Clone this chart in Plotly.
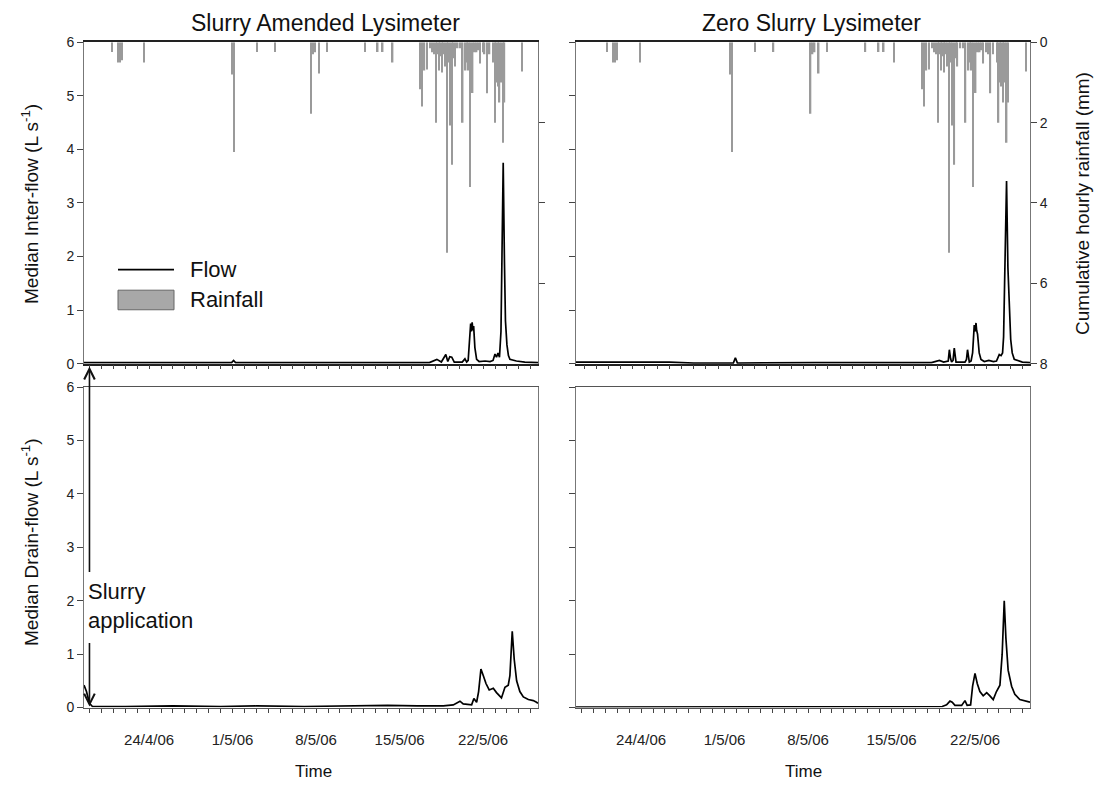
import plotly.graph_objects as go

# ---------------- data ----------------
# Hourly rainfall (mm) - shown hanging from the top of both upper panels
rainfall = [
    ("2006-04-20 21:00", 0.24), ("2006-04-21 09:00", 0.5), ("2006-04-21 13:00", 0.5),
    ("2006-04-21 17:00", 0.45), ("2006-04-23 14:00", 0.5), ("2006-05-01 00:00", 0.8),
    ("2006-05-01 03:00", 2.73), ("2006-05-03 01:00", 0.24), ("2006-05-04 13:00", 0.24),
    ("2006-05-07 14:00", 1.78), ("2006-05-07 18:00", 0.3), ("2006-05-07 22:00", 0.25),
    ("2006-05-08 06:00", 0.78), ("2006-05-08 22:00", 0.24), ("2006-05-12 02:00", 0.24),
    ("2006-05-13 04:00", 0.24), ("2006-05-13 14:00", 0.24), ("2006-05-14 10:00", 0.5),
    ("2006-05-16 17:00", 1.17), ("2006-05-16 21:00", 1.6), ("2006-05-17 02:00", 0.7),
    ("2006-05-17 07:00", 0.68), ("2006-05-17 13:00", 0.15), ("2006-05-17 17:00", 0.25),
    ("2006-05-17 21:00", 0.3), ("2006-05-18 01:00", 2.0), ("2006-05-18 04:00", 0.3),
    ("2006-05-18 07:00", 0.7), ("2006-05-18 10:00", 0.35), ("2006-05-18 13:00", 0.75),
    ("2006-05-18 16:00", 0.3), ("2006-05-18 19:00", 0.6), ("2006-05-18 23:00", 5.24),
    ("2006-05-19 02:00", 0.5), ("2006-05-19 05:00", 2.07), ("2006-05-19 09:00", 3.05),
    ("2006-05-19 12:00", 0.4), ("2006-05-19 15:00", 0.6), ("2006-05-19 21:00", 0.15),
    ("2006-05-20 02:00", 0.15), ("2006-05-20 07:00", 2.0), ("2006-05-20 13:00", 0.7),
    ("2006-05-20 16:00", 0.5), ("2006-05-20 19:00", 0.7), ("2006-05-20 22:00", 3.6),
    ("2006-05-21 03:00", 1.26), ("2006-05-21 07:00", 0.25), ("2006-05-21 11:00", 0.25),
    ("2006-05-21 15:00", 0.2), ("2006-05-21 18:00", 0.53), ("2006-05-22 00:00", 0.25),
    ("2006-05-22 03:00", 0.3), ("2006-05-22 08:00", 1.27), ("2006-05-22 13:00", 0.3),
    ("2006-05-22 21:00", 0.5), ("2006-05-23 00:00", 2.0), ("2006-05-23 03:00", 1.0),
    ("2006-05-23 06:00", 1.1), ("2006-05-23 09:00", 1.5), ("2006-05-23 12:00", 1.0),
    ("2006-05-23 16:00", 2.5), ("2006-05-23 19:00", 1.5), ("2006-05-25 06:00", 0.73),
]

# Median inter-flow (L s-1), slurry amended lysimeter
interflow_slurry = [
    ("2006-04-18 13:00", 0.02), ("2006-04-25 00:00", 0.02), ("2006-04-30 22:00", 0.02),
    ("2006-05-01 02:00", 0.06), ("2006-05-01 06:00", 0.02), ("2006-05-10 00:00", 0.02),
    ("2006-05-17 12:00", 0.02), ("2006-05-18 03:00", 0.08), ("2006-05-18 12:00", 0.03),
    ("2006-05-18 21:00", 0.17), ("2006-05-19 01:00", 0.04), ("2006-05-19 05:00", 0.13),
    ("2006-05-19 09:00", 0.12), ("2006-05-19 14:00", 0.03), ("2006-05-20 06:00", 0.03),
    ("2006-05-20 11:30", 0.09), ("2006-05-20 15:00", 0.03), ("2006-05-20 18:00", 0.06),
    ("2006-05-20 21:00", 0.5), ("2006-05-20 23:00", 0.75), ("2006-05-21 00:30", 0.6),
    ("2006-05-21 02:00", 0.77), ("2006-05-21 03:30", 0.62), ("2006-05-21 05:00", 0.7),
    ("2006-05-21 07:30", 0.3), ("2006-05-21 11:00", 0.08), ("2006-05-21 16:00", 0.04),
    ("2006-05-22 04:00", 0.05), ("2006-05-22 14:00", 0.04), ("2006-05-22 20:00", 0.06),
    ("2006-05-23 00:00", 0.18), ("2006-05-23 03:00", 0.12), ("2006-05-23 06:00", 0.2),
    ("2006-05-23 09:00", 0.12), ("2006-05-23 12:00", 0.6), ("2006-05-23 14:00", 1.9),
    ("2006-05-23 16:30", 3.75), ("2006-05-23 19:00", 1.9), ("2006-05-23 21:00", 0.8),
    ("2006-05-24 00:00", 0.35), ("2006-05-24 03:00", 0.15), ("2006-05-24 06:00", 0.08),
    ("2006-05-24 19:00", 0.05), ("2006-05-25 12:00", 0.03), ("2006-05-26 14:30", 0.02),
]

# Median inter-flow (L s-1), zero slurry lysimeter
interflow_zero = [
    ("2006-04-18 08:00", 0.03), ("2006-04-22 00:00", 0.03), ("2006-04-26 00:00", 0.03),
    ("2006-04-28 00:00", 0.01), ("2006-05-01 06:00", 0.01), ("2006-05-01 10:00", 0.11),
    ("2006-05-01 14:00", 0.01), ("2006-05-08 00:00", 0.02), ("2006-05-15 00:00", 0.01),
    ("2006-05-17 12:00", 0.02), ("2006-05-18 03:40", 0.06), ("2006-05-18 12:00", 0.03),
    ("2006-05-18 21:00", 0.05), ("2006-05-18 23:15", 0.26), ("2006-05-19 01:30", 0.1),
    ("2006-05-19 03:40", 0.03), ("2006-05-19 06:30", 0.06), ("2006-05-19 08:55", 0.29),
    ("2006-05-19 12:20", 0.03), ("2006-05-20 06:00", 0.03), ("2006-05-20 09:00", 0.08),
    ("2006-05-20 11:00", 0.26), ("2006-05-20 14:30", 0.03), ("2006-05-20 18:00", 0.05),
    ("2006-05-20 21:00", 0.2), ("2006-05-21 00:15", 0.72), ("2006-05-21 02:00", 0.6),
    ("2006-05-21 03:40", 0.76), ("2006-05-21 05:00", 0.62), ("2006-05-21 06:45", 0.55),
    ("2006-05-21 10:00", 0.2), ("2006-05-21 13:30", 0.08), ("2006-05-21 20:00", 0.04),
    ("2006-05-22 05:00", 0.06), ("2006-05-22 14:00", 0.04), ("2006-05-22 20:00", 0.05),
    ("2006-05-23 01:30", 0.17), ("2006-05-23 05:00", 0.15), ("2006-05-23 08:00", 0.2),
    ("2006-05-23 10:00", 0.5), ("2006-05-23 12:00", 1.5), ("2006-05-23 15:50", 3.41),
    ("2006-05-23 18:30", 1.8), ("2006-05-23 21:00", 1.0), ("2006-05-24 00:00", 0.45),
    ("2006-05-24 03:00", 0.2), ("2006-05-24 07:00", 0.08), ("2006-05-24 23:00", 0.03),
    ("2006-05-25 14:00", 0.02),
]

# Median drain-flow (L s-1), slurry amended lysimeter
drainflow_slurry = [
    ("2006-04-18 13:00", 0.42), ("2006-04-18 18:00", 0.3), ("2006-04-19 00:00", 0.08),
    ("2006-04-19 06:00", 0.02), ("2006-04-22 00:00", 0.02), ("2006-04-26 00:00", 0.03),
    ("2006-04-30 00:00", 0.02), ("2006-05-03 00:00", 0.03), ("2006-05-07 00:00", 0.02),
    ("2006-05-11 00:00", 0.03), ("2006-05-14 00:00", 0.04), ("2006-05-16 12:00", 0.03),
    ("2006-05-18 16:00", 0.03), ("2006-05-19 12:00", 0.05), ("2006-05-20 01:30", 0.12),
    ("2006-05-20 08:00", 0.07), ("2006-05-20 18:00", 0.05), ("2006-05-21 01:00", 0.05),
    ("2006-05-21 05:30", 0.17), ("2006-05-21 11:00", 0.1), ("2006-05-21 15:00", 0.3),
    ("2006-05-21 19:40", 0.72), ("2006-05-22 00:20", 0.6), ("2006-05-22 05:50", 0.45),
    ("2006-05-22 12:20", 0.33), ("2006-05-22 20:30", 0.36), ("2006-05-23 03:00", 0.28),
    ("2006-05-23 13:00", 0.18), ("2006-05-23 20:00", 0.38), ("2006-05-24 02:40", 0.42),
    ("2006-05-24 06:00", 0.6), ("2006-05-24 10:40", 1.43), ("2006-05-24 14:40", 0.9),
    ("2006-05-24 19:30", 0.5), ("2006-05-25 02:00", 0.3), ("2006-05-25 09:00", 0.2),
    ("2006-05-25 19:00", 0.15), ("2006-05-26 05:00", 0.13), ("2006-05-26 11:30", 0.1),
    ("2006-05-26 14:30", 0.08),
]

# Median drain-flow (L s-1), zero slurry lysimeter
drainflow_zero = [
    ("2006-04-18 13:00", 0.01), ("2006-04-24 00:00", 0.01), ("2006-05-01 00:00", 0.01),
    ("2006-05-08 00:00", 0.01), ("2006-05-15 00:00", 0.01), ("2006-05-19 06:00", 0.02),
    ("2006-05-19 14:40", 0.05), ("2006-05-19 21:30", 0.12), ("2006-05-20 02:00", 0.1),
    ("2006-05-20 07:30", 0.04), ("2006-05-20 21:00", 0.04), ("2006-05-21 03:40", 0.13),
    ("2006-05-21 08:00", 0.04), ("2006-05-21 15:00", 0.05), ("2006-05-21 19:00", 0.4),
    ("2006-05-21 23:50", 0.64), ("2006-05-22 04:20", 0.45), ("2006-05-22 09:40", 0.3),
    ("2006-05-22 16:20", 0.22), ("2006-05-22 23:20", 0.28), ("2006-05-23 05:50", 0.22),
    ("2006-05-23 12:30", 0.15), ("2006-05-23 19:00", 0.3), ("2006-05-24 02:00", 0.42),
    ("2006-05-24 06:30", 1.0), ("2006-05-24 10:40", 2.0), ("2006-05-24 14:00", 1.3),
    ("2006-05-24 18:30", 0.7), ("2006-05-25 01:30", 0.4), ("2006-05-25 08:00", 0.25),
    ("2006-05-25 18:00", 0.15), ("2006-05-26 08:00", 0.12), ("2006-05-26 14:30", 0.1),
]

slurry_application = "2006-04-19 00:00"
panel_titles = ["Slurry Amended Lysimeter", "Zero Slurry Lysimeter"]
flow_ticks = [0, 1, 2, 3, 4, 5, 6]
rain_ticks = [0, 2, 4, 6, 8]
date_tick0 = "2006-04-24"

# ---------------- layout helpers ----------------
W, H = 1099, 791
fx = lambda px: px / W
fy = lambda py: 1 - py / H
FONT = "Liberation Sans, Arial, sans-serif"
LINE = "#555555"

range_main = ["2006-04-18 13:00", "2006-05-26 14:30"]
range_tr = ["2006-04-18 08:15", "2006-05-25 14:00"]

def xs(pairs):
    return [p[0] for p in pairs]

def ys(pairs):
    return [p[1] for p in pairs]

fig = go.Figure()

flow_style = dict(mode="lines", line=dict(color="black", width=1.7), showlegend=False,
                  hoverinfo="x+y")
bar_style = dict(marker=dict(color="#9a9a9a", line=dict(width=0)), width=3 * 3600 * 1000,
                 showlegend=False)

fig.add_trace(go.Bar(x=xs(rainfall), y=ys(rainfall), xaxis="x", yaxis="y2", **bar_style))
fig.add_trace(go.Scatter(x=xs(interflow_slurry), y=ys(interflow_slurry), xaxis="x", yaxis="y", **flow_style))
fig.add_trace(go.Bar(x=xs(rainfall), y=ys(rainfall), xaxis="x2", yaxis="y4", **bar_style))
fig.add_trace(go.Scatter(x=xs(interflow_zero), y=ys(interflow_zero), xaxis="x2", yaxis="y3", **flow_style))
fig.add_trace(go.Scatter(x=xs(drainflow_slurry), y=ys(drainflow_slurry), xaxis="x3", yaxis="y5", **flow_style))
fig.add_trace(go.Scatter(x=xs(drainflow_zero), y=ys(drainflow_zero), xaxis="x4", yaxis="y6", **flow_style))

LX = [fx(84), fx(538)]
RX = [fx(576), fx(1030)]
TY = [fy(363), fy(35)]
BY = [fy(714), fy(387)]

def xaxis(domain, anchor, rng, labels, linecolor=LINE, lw=1):
    return dict(domain=domain, anchor=anchor, type="date", range=rng,
                tickmode="linear", tick0=date_tick0, dtick=7 * 86400000,
                tickformat="%-d/%-m/%y", ticks="outside", ticklen=4, tickcolor="#444",
                minor=dict(dtick=86400000, tick0=date_tick0, ticks="outside", ticklen=4,
                           tickcolor="#444"),
                showticklabels=labels, ticklabelstandoff=14,
                tickfont=dict(family=FONT, size=15, color="#222"),
                showgrid=False, zeroline=False, showline=True, mirror=True,
                linecolor=linecolor, linewidth=lw)

def yaxis(domain, anchor, labels, mirror=False):
    return dict(domain=domain, anchor=anchor, range=[0, 6], tickmode="array",
                tickvals=flow_ticks, ticks="outside", ticklen=6, tickcolor="#444",
                showticklabels=labels, tickfont=dict(family=FONT, size=14, color="#222"),
                showgrid=False, zeroline=False, showline=True, mirror=mirror,
                linecolor="#777", linewidth=1)

def rain_axis(overlay, anchor, vals, labels):
    return dict(overlaying=overlay, anchor=anchor, side="right", range=[8, 0],
                tickmode="array", tickvals=vals, ticks="outside", ticklen=6, tickcolor="#444",
                showticklabels=labels, tickfont=dict(family=FONT, size=14, color="#222"),
                showgrid=False, zeroline=False, showline=True, linecolor="#777", linewidth=1)

fig.update_layout(
    width=W, height=H, margin=dict(l=0, r=0, t=0, b=0),
    paper_bgcolor="white", plot_bgcolor="white", barmode="overlay",
    xaxis=xaxis(LX, "y", range_main, False, linecolor="#222", lw=1.5),
    xaxis2=xaxis(RX, "y3", range_tr, False, linecolor="#222", lw=1.5),
    xaxis3=xaxis(LX, "y5", range_main, True),
    xaxis4=xaxis(RX, "y6", range_main, True),
    yaxis=yaxis(TY, "x", True),
    yaxis2=rain_axis("y", "x", [2, 4, 6], False),
    yaxis3=yaxis(TY, "x2", False),
    yaxis4=rain_axis("y3", "x2", rain_ticks, True),
    yaxis5=yaxis(BY, "x3", True, mirror=True),
    yaxis6=yaxis(BY, "x4", False, mirror=True),
)

ann = []
def text(x, y, s, size, angle=0, xanchor="center", align="center"):
    ann.append(dict(x=x, y=y, xref="paper", yref="paper", text=s, showarrow=False,
                    textangle=angle, xanchor=xanchor, yanchor="middle", align=align,
                    font=dict(family=FONT, size=size, color="#111")))

text(fx(325), fy(15), panel_titles[0], 23)
text(fx(812), fy(15), panel_titles[1], 23)
text(fx(30), fy(200), "Median Inter-flow (L s<sup>-1</sup>)", 19, angle=-90)
text(fx(30), fy(545), "Median Drain-flow (L s<sup>-1</sup>)", 19, angle=-90)
text(fx(1083), fy(200), "Cumulative hourly rainfall (mm)", 19, angle=-90)
text(fx(313), fy(779), "Time", 17)
text(fx(803), fy(779), "Time", 17)
text(fx(188), fy(267), "Flow", 22, xanchor="left")
text(fx(188), fy(298), "Rainfall", 22, xanchor="left")
text(fx(86), fy(610), "Slurry<br>application", 22, xanchor="left", align="left")

# slurry application arrows
ann.append(dict(x=slurry_application, xref="x3", y=fy(366), yref="paper", ax=0, ay=207,
                axref="pixel", ayref="pixel", showarrow=True, arrowhead=5, arrowsize=1.3,
                arrowwidth=1.6, arrowcolor="#111", text=""))
ann.append(dict(x=slurry_application, xref="x3", y=fy(713), yref="paper", ax=0, ay=-65,
                axref="pixel", ayref="pixel", showarrow=True, arrowhead=5, arrowsize=1.3,
                arrowwidth=1.6, arrowcolor="#111", text=""))
fig.update_layout(annotations=ann)

# legend key drawn as shapes
fig.update_layout(shapes=[
    dict(type="line", xref="paper", yref="paper", x0=fx(118), x1=fx(174), y0=fy(267), y1=fy(267),
         line=dict(color="black", width=1.6)),
    dict(type="rect", xref="paper", yref="paper", x0=fx(118), x1=fx(174), y0=fy(308), y1=fy(288),
         fillcolor="#a8a8a8", line=dict(color="#666", width=1)),
])

fig.write_html("out.html", config={"displayModeBar": False},
               post_script="document.body.style.margin='0px';")
